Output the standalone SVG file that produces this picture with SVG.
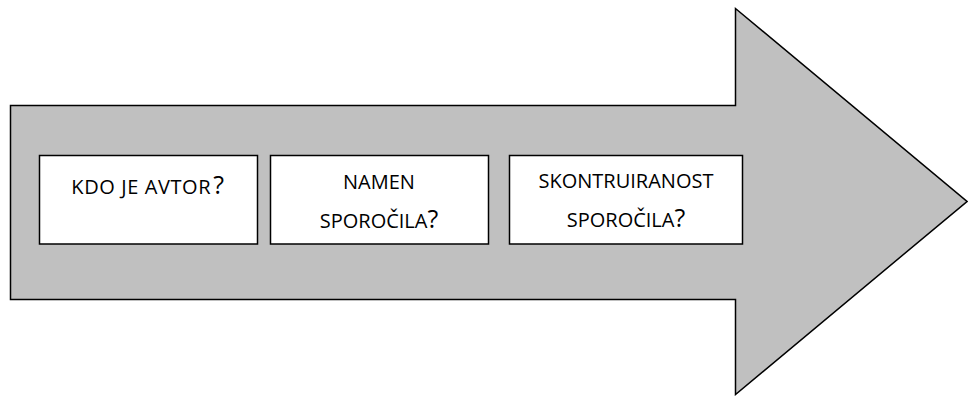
<svg xmlns="http://www.w3.org/2000/svg" width="968" height="396" viewBox="0 0 968 396">
<style>
.arrow{fill:#c0c0c0;stroke:#000;stroke-width:1.5;stroke-linejoin:miter}
.box{fill:#fff;stroke:#000;stroke-width:1.5}
.t{font-family:"Open Sans","Liberation Sans",sans-serif;font-size:20px;fill:#000;text-anchor:middle}
.q{font-size:25px}
</style>
<rect width="968" height="396" fill="#fff"/>
<g id="arrow">
<polygon class="arrow" points="10.5,105.5 735.5,105.5 735.5,8.5 967,201.5 735.5,394.5 735.5,299.5 10.5,299.5"/>
</g>
<g id="node1">
<rect class="box" x="39.5" y="155.5" width="218" height="88.5"/>
<text class="t" x="148" y="194" letter-spacing="0.6">KDO JE AVTOR<tspan class="q" dx="2">?</tspan></text>
</g>
<g id="node2">
<rect class="box" x="270.5" y="155.5" width="218" height="88.5"/>
<text class="t" x="379" y="189">NAMEN</text>
<text class="t" x="379" y="228">SPOROČILA<tspan class="q">?</tspan></text>
</g>
<g id="node3">
<rect class="box" x="509.5" y="155.5" width="233" height="88.5"/>
<text class="t" x="626" y="188">SKONTRUIRANOST</text>
<text class="t" x="626" y="227">SPOROČILA<tspan class="q">?</tspan></text>
</g>
<g id="connectors"/>
</svg>
